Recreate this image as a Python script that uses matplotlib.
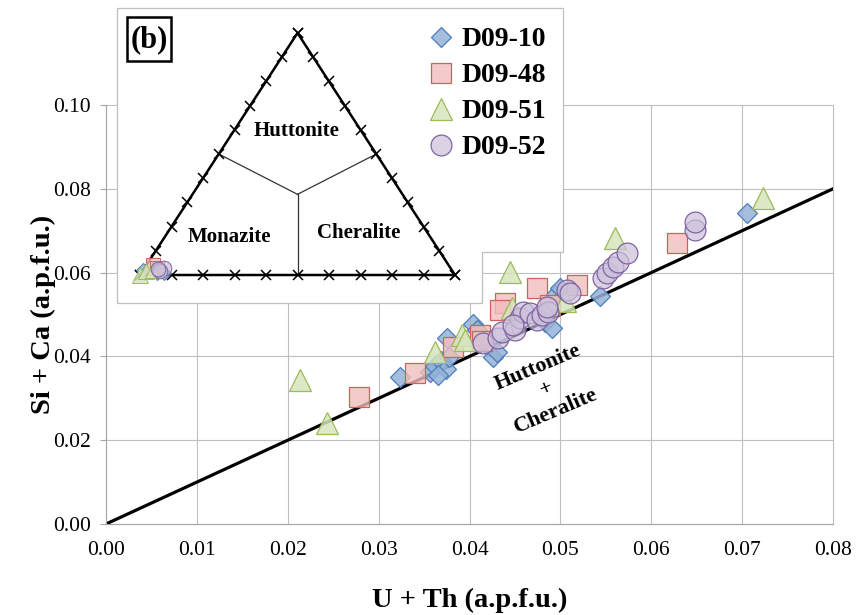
import matplotlib
matplotlib.use("Agg")
import matplotlib.pyplot as plt
import numpy as np
from matplotlib.patches import Polygon, Rectangle
from matplotlib.ticker import FormatStrFormatter

plt.rcParams["font.family"] = ["Liberation Serif", "DejaVu Serif"]

# U + Th vs Si + Ca (a.p.f.u.) por muestra
d09_10_x = [0.0324, 0.0357, 0.0362, 0.0369, 0.0374, 0.0377, 0.0365, 0.0375, 0.0404, 0.0408,
            0.0420, 0.0426, 0.0430, 0.0483, 0.0491, 0.0494, 0.0500, 0.0544, 0.0705]
d09_10_y = [0.0351, 0.0363, 0.0377, 0.0389, 0.0370, 0.0399, 0.0356, 0.0444, 0.0477, 0.0463,
            0.0425, 0.0399, 0.0411, 0.0482, 0.0468, 0.0547, 0.0563, 0.0544, 0.0742]

d09_48_x = [0.0278, 0.0340, 0.0382, 0.0412, 0.0414, 0.0439, 0.0434, 0.0474, 0.0489, 0.0518, 0.0628]
d09_48_y = [0.0303, 0.0360, 0.0422, 0.0451, 0.0437, 0.0527, 0.0511, 0.0563, 0.0523, 0.0570, 0.0671]

d09_51_x = [0.0213, 0.0243, 0.0362, 0.0392, 0.0395, 0.0445, 0.0447, 0.0505, 0.0560, 0.0723]
d09_51_y = [0.0344, 0.0241, 0.0411, 0.0451, 0.0439, 0.0601, 0.0516, 0.0532, 0.0683, 0.0778]

d09_52_x = [0.0415, 0.0431, 0.0436, 0.0450, 0.0456, 0.0459, 0.0467, 0.0474, 0.0480, 0.0486,
            0.0485, 0.0507, 0.0511, 0.0547, 0.0551, 0.0558, 0.0563, 0.0573, 0.0648, 0.0648, 0.0448]
d09_52_y = [0.0432, 0.0444, 0.0458, 0.0463, 0.0492, 0.0506, 0.0504, 0.0487, 0.0499, 0.0506,
            0.0518, 0.0558, 0.0551, 0.0587, 0.0599, 0.0613, 0.0625, 0.0647, 0.0702, 0.0721, 0.0475]

# composiciones en el ternario (fraccion huttonita, fraccion cheralita)
tern_d10_hut = [0.01, 0.02, 0.01]
tern_d10_che = [0.07, 0.00, 0.05]
tern_d48_hut = [0.04, 0.03]
tern_d48_che = [0.02, 0.04]
tern_d51_hut = [0.00, 0.015, 0.02]
tern_d51_che = [0.00, 0.01, 0.03]
tern_d52_hut = [0.02, 0.03, 0.015, 0.025]
tern_d52_che = [0.05, 0.06, 0.055, 0.045]

x_ticks = np.arange(0, 0.081, 0.01)
y_ticks = np.arange(0, 0.101, 0.02)

series = [
    ("D09-10", d09_10_x, d09_10_y, tern_d10_hut, tern_d10_che, "D", 10.5, (0.584, 0.702, 0.843, 0.85), "#4a7ebb"),
    ("D09-48", d09_48_x, d09_48_y, tern_d48_hut, tern_d48_che, "s", 14, (0.941, 0.745, 0.745, 0.8), "#d0605c"),
    ("D09-51", d09_51_x, d09_51_y, tern_d51_hut, tern_d51_che, "^", 15.5, (0.843, 0.894, 0.741, 0.85), "#9bbb59"),
    ("D09-52", d09_52_x, d09_52_y, tern_d52_hut, tern_d52_che, "o", 15, (0.80, 0.757, 0.855, 0.7), "#8064a2"),
]

W, H = 858, 615
fig = plt.figure(figsize=(W / 100, H / 100), dpi=100)

# --- grafico principal ---
ax = fig.add_axes([106 / W, 91 / H, 727 / W, 419 / H], zorder=1)
ax.axline((0, 0), slope=1, color="black", linewidth=2.3, zorder=2)
handles = []
for name, xs, ys, _, _, mk, ms, fc, ec in series:
    h, = ax.plot(xs, ys, linestyle="none", marker=mk, markersize=ms, markerfacecolor=fc,
                 markeredgecolor=ec, markeredgewidth=0.9, zorder=3, label=name)
    handles.append(h)

ax.set_xlim(0, 0.08)
ax.set_ylim(0, 0.10)
ax.set_xticks(x_ticks)
ax.set_yticks(y_ticks)
ax.xaxis.set_major_formatter(FormatStrFormatter("%.2f"))
ax.yaxis.set_major_formatter(FormatStrFormatter("%.2f"))
ax.tick_params(axis="x", length=0, pad=12.5, labelsize=15.5)
ax.tick_params(axis="y", length=4, width=0.8, color="#a6a6a6", pad=7, labelsize=15.5)
ax.grid(True, color="#bfbfbf", linewidth=0.8)
for line in ax.get_xgridlines() + ax.get_ygridlines():
    line.set_clip_on(False)
ax.set_axisbelow(True)
for side in ["top", "right"]:
    ax.spines[side].set_visible(False)
for side in ["left", "bottom"]:
    ax.spines[side].set_color("#a6a6a6")
    ax.spines[side].set_linewidth(0.8)

ax.set_xlabel("U + Th (a.p.f.u.)", fontsize=20.5, fontweight="bold", labelpad=20)
ax.set_ylabel("Si + Ca (a.p.f.u.)", fontsize=20.5, fontweight="bold", labelpad=-2)

ax.text(0.0485, 0.0322, "Huttonite\n+\nCheralite", rotation=23, rotation_mode="anchor",
        ha="center", va="center", multialignment="center", fontsize=16, fontweight="bold",
        linespacing=1.25, zorder=4)

# --- recuadro blanco del inserto ---
ov = fig.add_axes([0, 0, 1, 1], zorder=2)
ov.set_xlim(0, W)
ov.set_ylim(H, 0)
ov.axis("off")
box = [(117, 8), (563, 8), (563, 252), (482, 252), (482, 303), (117, 303)]
ov.add_patch(Polygon(box, closed=True, facecolor="white", edgecolor="#bfbfbf", linewidth=0.9))
ov.add_patch(Rectangle((127, 17), 44, 44, facecolor="white", edgecolor="black", linewidth=1.8))
ov.text(149, 40, "(b)", ha="center", va="center", fontsize=22, fontweight="bold")

ov.legend(handles=handles, loc="upper left", bbox_to_anchor=(427 / W, 1 - 27 / H),
          bbox_transform=fig.transFigure, frameon=False, borderpad=0, borderaxespad=0,
          handlelength=1.0, handletextpad=0.25, labelspacing=0.38,
          prop={"family": "Liberation Serif", "weight": "bold", "size": 20})

# --- diagrama ternario ---
tern = fig.add_axes([140 / W, (H - 275) / H, 315 / W, 242 / H], zorder=3)
tern.set_xlim(0, 1)
tern.set_ylim(0, 1)
tern.axis("off")


def to_xy(hut, che):
    hut = np.asarray(hut, dtype=float)
    che = np.asarray(che, dtype=float)
    return che + 0.5 * hut, hut


corner_x, corner_y = to_xy([0, 1, 0, 0], [0, 0, 1, 0])
tern.plot(corner_x, corner_y, color="black", linewidth=1.8, clip_on=False, zorder=2)

steps = np.linspace(0, 1, 11)
for hut, che in [(np.zeros(11), steps), (steps, np.zeros(11)), (steps, 1 - steps)]:
    tx, ty = to_xy(hut, che)
    tern.plot(tx, ty, linestyle="none", marker="x", markersize=6.5, markeredgewidth=1.1,
              color="black", clip_on=False, zorder=2)

cx, cy = to_xy(1 / 3, 1 / 3)
for hut, che in [(0.5, 0.0), (0.5, 0.5), (0.0, 0.5)]:
    mx, my = to_xy(hut, che)
    tern.plot([cx, mx], [cy, my], color="#333333", linewidth=0.9, zorder=1)

tx, ty = to_xy(0.595, 0.2005)
tern.text(tx, ty, "Huttonite", ha="center", va="center", fontsize=15, fontweight="bold")
tern.text(0.283, 0.157, "Monazite", ha="center", va="center", fontsize=15, fontweight="bold")
tern.text(0.695, 0.174, "Cheralite", ha="center", va="center", fontsize=15, fontweight="bold")

for name, _, _, t_hut, t_che, mk, ms, fc, ec in series:
    px, py = to_xy(t_hut, t_che)
    tern.plot(px, py, linestyle="none", marker=mk, markersize=ms * 0.7, markerfacecolor=fc,
              markeredgecolor=ec, markeredgewidth=0.7, clip_on=False, zorder=3)

fig.savefig("out.png", dpi=100)
